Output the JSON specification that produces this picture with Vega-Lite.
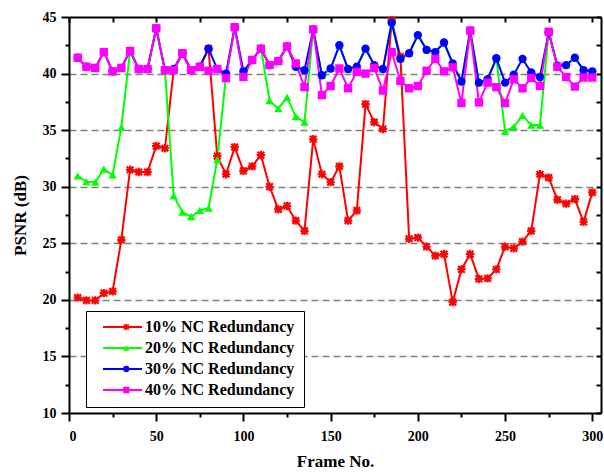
{
"$schema": "https://vega.github.io/schema/vega-lite/v6.json",
"width": 532, "height": 396,
"autosize": "none",
"padding": {"left": 69, "top": 17, "right": 3, "bottom": 60},
"background": "white",
"config": {"view": {"stroke": null}, "font": "Liberation Serif",
  "legend": {"labelFont": "Liberation Serif", "labelFontSize": 16, "labelFontWeight": "bold", "labelColor": "black"},
  "axis": {"domainColor": "black", "domainWidth": 2, "tickColor": "black", "tickWidth": 2, "labelFont": "Liberation Serif", "labelFontSize": 14, "labelFontWeight": "bold", "labelColor": "black", "titleFont": "Liberation Serif", "titleFontSize": 17, "titleFontWeight": "bold", "titleColor": "black"}},
"data": {"values": [
{"s":"10%","f":5,"v":20.2},{"s":"10%","f":10,"v":19.95},{"s":"10%","f":15,"v":19.95},{"s":"10%","f":20,"v":20.6},{"s":"10%","f":25,"v":20.75},{"s":"10%","f":30,"v":25.3},{"s":"10%","f":35,"v":31.5},{"s":"10%","f":40,"v":31.3},{"s":"10%","f":45,"v":31.3},{"s":"10%","f":50,"v":33.6},{"s":"10%","f":55,"v":33.4},{"s":"10%","f":60,"v":40.3},{"s":"10%","f":65,"v":41.8},{"s":"10%","f":70,"v":40.3},{"s":"10%","f":75,"v":40.6},{"s":"10%","f":80,"v":42.2},{"s":"10%","f":85,"v":32.7},{"s":"10%","f":90,"v":31.1},{"s":"10%","f":95,"v":33.5},{"s":"10%","f":100,"v":31.4},{"s":"10%","f":105,"v":31.8},{"s":"10%","f":110,"v":32.8},{"s":"10%","f":115,"v":30.0},{"s":"10%","f":120,"v":28.0},{"s":"10%","f":125,"v":28.3},{"s":"10%","f":130,"v":27.0},{"s":"10%","f":135,"v":26.1},{"s":"10%","f":140,"v":34.2},{"s":"10%","f":145,"v":31.1},{"s":"10%","f":150,"v":30.4},{"s":"10%","f":155,"v":31.8},{"s":"10%","f":160,"v":27.0},{"s":"10%","f":165,"v":27.9},{"s":"10%","f":170,"v":37.3},{"s":"10%","f":175,"v":35.7},{"s":"10%","f":180,"v":35.1},{"s":"10%","f":185,"v":44.7},{"s":"10%","f":190,"v":41.5},{"s":"10%","f":195,"v":25.4},{"s":"10%","f":200,"v":25.5},{"s":"10%","f":205,"v":24.7},{"s":"10%","f":210,"v":23.9},{"s":"10%","f":215,"v":24.05},{"s":"10%","f":220,"v":19.8},{"s":"10%","f":225,"v":22.7},{"s":"10%","f":230,"v":24.05},{"s":"10%","f":235,"v":21.85},{"s":"10%","f":240,"v":21.9},{"s":"10%","f":245,"v":22.7},{"s":"10%","f":250,"v":24.7},{"s":"10%","f":255,"v":24.55},{"s":"10%","f":260,"v":25.15},{"s":"10%","f":265,"v":26.1},{"s":"10%","f":270,"v":31.1},{"s":"10%","f":275,"v":30.8},{"s":"10%","f":280,"v":28.85},{"s":"10%","f":285,"v":28.5},{"s":"10%","f":290,"v":28.9},{"s":"10%","f":295,"v":26.9},{"s":"10%","f":300,"v":29.5},
{"s":"20%","f":5,"v":30.95},{"s":"20%","f":10,"v":30.45},{"s":"20%","f":15,"v":30.4},{"s":"20%","f":20,"v":31.55},{"s":"20%","f":25,"v":31.05},{"s":"20%","f":30,"v":35.25},{"s":"20%","f":35,"v":42.0},{"s":"20%","f":40,"v":40.4},{"s":"20%","f":45,"v":40.4},{"s":"20%","f":50,"v":44.0},{"s":"20%","f":55,"v":40.3},{"s":"20%","f":60,"v":29.2},{"s":"20%","f":65,"v":27.75},{"s":"20%","f":70,"v":27.35},{"s":"20%","f":75,"v":27.9},{"s":"20%","f":80,"v":28.1},{"s":"20%","f":85,"v":32.4},{"s":"20%","f":90,"v":39.8},{"s":"20%","f":95,"v":44.1},{"s":"20%","f":100,"v":40.0},{"s":"20%","f":105,"v":41.2},{"s":"20%","f":110,"v":42.3},{"s":"20%","f":115,"v":37.6},{"s":"20%","f":120,"v":36.9},{"s":"20%","f":125,"v":37.9},{"s":"20%","f":130,"v":36.2},{"s":"20%","f":135,"v":35.7},{"s":"20%","f":140,"v":43.9},{"s":"20%","f":145,"v":39.85},{"s":"20%","f":150,"v":40.45},{"s":"20%","f":155,"v":42.5},{"s":"20%","f":160,"v":40.4},{"s":"20%","f":165,"v":40.6},{"s":"20%","f":170,"v":42.2},{"s":"20%","f":175,"v":40.75},{"s":"20%","f":180,"v":40.4},{"s":"20%","f":185,"v":44.5},{"s":"20%","f":190,"v":41.3},{"s":"20%","f":195,"v":41.8},{"s":"20%","f":200,"v":43.4},{"s":"20%","f":205,"v":42.1},{"s":"20%","f":210,"v":41.9},{"s":"20%","f":215,"v":42.75},{"s":"20%","f":220,"v":40.8},{"s":"20%","f":225,"v":39.3},{"s":"20%","f":230,"v":43.8},{"s":"20%","f":235,"v":39.2},{"s":"20%","f":240,"v":39.5},{"s":"20%","f":245,"v":41.35},{"s":"20%","f":250,"v":34.9},{"s":"20%","f":255,"v":35.3},{"s":"20%","f":260,"v":36.3},{"s":"20%","f":265,"v":35.45},{"s":"20%","f":270,"v":35.45},{"s":"20%","f":275,"v":43.65},{"s":"20%","f":280,"v":40.7},{"s":"20%","f":285,"v":40.75},{"s":"20%","f":290,"v":41.4},{"s":"20%","f":295,"v":40.3},{"s":"20%","f":300,"v":40.2},
{"s":"30%","f":5,"v":41.4},{"s":"30%","f":10,"v":40.6},{"s":"30%","f":15,"v":40.5},{"s":"30%","f":20,"v":41.9},{"s":"30%","f":25,"v":40.2},{"s":"30%","f":30,"v":40.5},{"s":"30%","f":35,"v":42.0},{"s":"30%","f":40,"v":40.4},{"s":"30%","f":45,"v":40.4},{"s":"30%","f":50,"v":44.0},{"s":"30%","f":55,"v":40.3},{"s":"30%","f":60,"v":40.4},{"s":"30%","f":65,"v":41.8},{"s":"30%","f":70,"v":40.3},{"s":"30%","f":75,"v":40.6},{"s":"30%","f":80,"v":42.2},{"s":"30%","f":85,"v":40.4},{"s":"30%","f":90,"v":40.0},{"s":"30%","f":95,"v":44.1},{"s":"30%","f":100,"v":40.2},{"s":"30%","f":105,"v":41.2},{"s":"30%","f":110,"v":42.2},{"s":"30%","f":115,"v":40.75},{"s":"30%","f":120,"v":41.1},{"s":"30%","f":125,"v":42.4},{"s":"30%","f":130,"v":40.6},{"s":"30%","f":135,"v":40.3},{"s":"30%","f":140,"v":43.9},{"s":"30%","f":145,"v":39.85},{"s":"30%","f":150,"v":40.45},{"s":"30%","f":155,"v":42.5},{"s":"30%","f":160,"v":40.4},{"s":"30%","f":165,"v":40.6},{"s":"30%","f":170,"v":42.2},{"s":"30%","f":175,"v":40.75},{"s":"30%","f":180,"v":40.4},{"s":"30%","f":185,"v":44.5},{"s":"30%","f":190,"v":41.3},{"s":"30%","f":195,"v":41.8},{"s":"30%","f":200,"v":43.4},{"s":"30%","f":205,"v":42.1},{"s":"30%","f":210,"v":41.9},{"s":"30%","f":215,"v":42.75},{"s":"30%","f":220,"v":40.9},{"s":"30%","f":225,"v":39.3},{"s":"30%","f":230,"v":43.8},{"s":"30%","f":235,"v":39.2},{"s":"30%","f":240,"v":39.5},{"s":"30%","f":245,"v":41.35},{"s":"30%","f":250,"v":39.2},{"s":"30%","f":255,"v":39.9},{"s":"30%","f":260,"v":41.3},{"s":"30%","f":265,"v":40.1},{"s":"30%","f":270,"v":39.7},{"s":"30%","f":275,"v":43.65},{"s":"30%","f":280,"v":40.7},{"s":"30%","f":285,"v":40.75},{"s":"30%","f":290,"v":41.4},{"s":"30%","f":295,"v":40.3},{"s":"30%","f":300,"v":40.2},
{"s":"40%","f":5,"v":41.4},{"s":"40%","f":10,"v":40.6},{"s":"40%","f":15,"v":40.5},{"s":"40%","f":20,"v":41.9},{"s":"40%","f":25,"v":40.2},{"s":"40%","f":30,"v":40.5},{"s":"40%","f":35,"v":42.0},{"s":"40%","f":40,"v":40.4},{"s":"40%","f":45,"v":40.4},{"s":"40%","f":50,"v":44.0},{"s":"40%","f":55,"v":40.3},{"s":"40%","f":60,"v":40.3},{"s":"40%","f":65,"v":41.8},{"s":"40%","f":70,"v":40.3},{"s":"40%","f":75,"v":40.6},{"s":"40%","f":80,"v":40.25},{"s":"40%","f":85,"v":40.4},{"s":"40%","f":90,"v":39.6},{"s":"40%","f":95,"v":44.1},{"s":"40%","f":100,"v":39.7},{"s":"40%","f":105,"v":41.2},{"s":"40%","f":110,"v":42.2},{"s":"40%","f":115,"v":40.75},{"s":"40%","f":120,"v":41.1},{"s":"40%","f":125,"v":42.4},{"s":"40%","f":130,"v":40.9},{"s":"40%","f":135,"v":38.8},{"s":"40%","f":140,"v":43.9},{"s":"40%","f":145,"v":38.1},{"s":"40%","f":150,"v":38.9},{"s":"40%","f":155,"v":40.45},{"s":"40%","f":160,"v":38.7},{"s":"40%","f":165,"v":40.15},{"s":"40%","f":170,"v":40.0},{"s":"40%","f":175,"v":40.5},{"s":"40%","f":180,"v":38.5},{"s":"40%","f":185,"v":41.9},{"s":"40%","f":190,"v":39.35},{"s":"40%","f":195,"v":38.7},{"s":"40%","f":200,"v":38.9},{"s":"40%","f":205,"v":40.25},{"s":"40%","f":210,"v":41.3},{"s":"40%","f":215,"v":40.2},{"s":"40%","f":220,"v":40.55},{"s":"40%","f":225,"v":37.4},{"s":"40%","f":230,"v":43.8},{"s":"40%","f":235,"v":37.45},{"s":"40%","f":240,"v":39.2},{"s":"40%","f":245,"v":38.8},{"s":"40%","f":250,"v":37.4},{"s":"40%","f":255,"v":39.5},{"s":"40%","f":260,"v":38.7},{"s":"40%","f":265,"v":39.6},{"s":"40%","f":270,"v":38.9},{"s":"40%","f":275,"v":43.7},{"s":"40%","f":280,"v":40.6},{"s":"40%","f":285,"v":39.7},{"s":"40%","f":290,"v":38.85},{"s":"40%","f":295,"v":39.65},{"s":"40%","f":300,"v":39.65}
]},
"layer": [
 {
  "mark": {"type": "line", "strokeWidth": 2},
  "encoding": {
   "x": {"field": "f", "type": "quantitative", "scale": {"domain": [0, 305], "nice": false, "zero": false},
     "axis": {"orient": "bottom", "values": [0,25,50,75,100,125,150,175,200,225,250,275,300], "labelExpr": "datum.value % 50 === 0 ? datum.label : ''", "tickSize": {"condition": {"test": "datum.value % 50 === 0", "value": 8}, "value": 4}, "grid": false, "labelPadding": 8, "title": "Frame No.", "titlePadding": 10}},
   "y": {"field": "v", "type": "quantitative", "scale": {"domain": [10, 45], "nice": false, "zero": false},
     "axis": {"orient": "left", "values": [10,12.5,15,17.5,20,22.5,25,27.5,30,32.5,35,37.5,40,42.5,45], "labelExpr": "datum.value % 5 === 0 ? datum.label : ''", "tickSize": {"condition": {"test": "datum.value % 5 === 0", "value": 8}, "value": 4}, "grid": true, "gridColor": "#808080", "gridDash": [7, 4], "gridWidth": 1.5, "gridOpacity": {"condition": {"test": "datum.value % 5 === 0 && datum.value > 10 && datum.value < 45", "value": 1}, "value": 0}, "labelPadding": 5, "title": "PSNR (dB)", "titlePadding": 13}},
   "color": {"field": "s", "type": "nominal", "scale": {"range": ["#ff0000", "#00ff00", "#0000ff", "#ff00ff"]},
     "legend": {"orient": "none", "legendX": 17, "legendY": 294, "title": null, "symbolType": "stroke", "symbolSize": 1521, "symbolStrokeWidth": 2, "clipHeight": 14, "rowPadding": 5, "padding": 9, "symbolOffset": 7, "labelOffset": 2, "labelFont": "Liberation Serif", "labelFontSize": 16, "labelFontWeight": "bold", "labelColor": "black", "labelLimit": 300, "labelExpr": "datum.label + ' NC Redundancy'", "strokeColor": "black", "fillColor": "white"}}
  }
 },
 {
  "mark": {"type": "point", "filled": true, "size": 70, "opacity": 1},
  "encoding": {
   "x": {"field": "f", "type": "quantitative",
     "axis": {"orient": "top", "values": [0,25,50,75,100,125,150,175,200,225,250,275,300], "labels": false, "tickSize": -5, "grid": false, "title": null}},
   "y": {"field": "v", "type": "quantitative",
     "axis": {"orient": "right", "values": [10,12.5,15,17.5,20,22.5,25,27.5,30,32.5,35,37.5,40,42.5,45], "labels": false, "tickSize": -5, "grid": false, "title": null}},
   "fill": {"field": "s", "type": "nominal", "scale": {"domain": ["10%", "20%", "30%", "40%"], "range": ["#ff0000", "#00ff00", "#0000ff", "#ff00ff"]},
     "legend": {"orient": "none", "legendX": 17, "legendY": 294, "title": null, "symbolSize": 40, "clipHeight": 14, "rowPadding": 5, "padding": 9, "symbolOffset": 23.3, "labelOffset": 2, "labelFontSize": 16, "labelExpr": "''", "symbolStrokeWidth": 0}},
   "shape": {"field": "s", "type": "nominal", "scale": {"domain": ["10%", "20%", "30%", "40%"], "range": ["M-1,-0.25H1V0.25H-1Z M-0.25,-1H0.25V1H-0.25Z M-0.62,-0.98L0.98,0.62L0.62,0.98L-0.98,-0.62Z M0.62,-0.98L0.98,-0.62L-0.62,0.98L-0.98,0.62Z", "triangle-up", "circle", "square"]},
     "legend": {"orient": "none", "legendX": 17, "legendY": 294, "title": null, "symbolSize": 40, "clipHeight": 14, "rowPadding": 5, "padding": 9, "symbolOffset": 23.3, "labelOffset": 2, "labelFontSize": 16, "labelExpr": "''", "symbolStrokeWidth": 0}}
  }
 }
]
}
